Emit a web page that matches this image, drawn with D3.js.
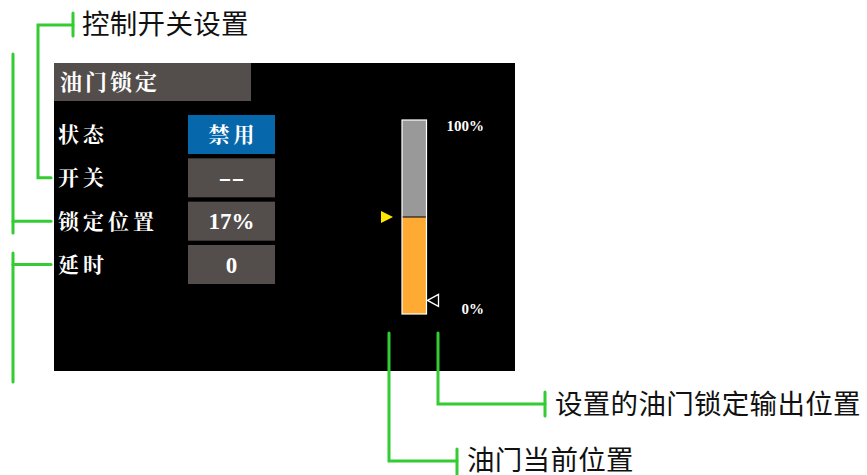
<!DOCTYPE html>
<html><head><meta charset="utf-8">
<script src="https://cdn.jsdelivr.net/npm/d3@7/dist/d3.min.js"></script>
<style>html,body{margin:0;padding:0;background:#fff;}svg{display:block;}</style>
</head><body>
<script>
// ---- data ----
const title = "油门锁定";
const rowLabels = ["状态", "开关", "锁定位置", "延时"];
const rowValues = ["禁用", "--", "17%", "0"];
const rowActive = [true, false, false, false];
const throttleCurrent = 50;      // % (yellow marker / orange fill)
const lockOutput = 7;            // % (hollow marker)
const scaleTicks = [100, 0];
const scaleTickLabels = ["100%", "0%"];
const annotations = ["控制开关设置", "设置的油门锁定输出位置", "油门当前位置"];

const W = 867, H = 475;
const svg = d3.select("body").append("svg").attr("width", W).attr("height", H);

const GREEN = "#3c3", SCREEN = "#000", GREYBOX = "#534e4b", BLUE = "#0668ab";
const cjkSerif = "'Noto Serif CJK SC','Noto Sans CJK SC',serif";
const latinSerif = "'Liberation Serif','DejaVu Serif',serif";

// screen
svg.append("rect").attr("x", 54).attr("y", 63).attr("width", 461).attr("height", 308).attr("fill", SCREEN);
svg.append("rect").attr("x", 54).attr("y", 63).attr("width", 197).attr("height", 38).attr("fill", GREYBOX);
svg.append("text").attr("x", 60).attr("y", 82).attr("dy", "0.36em")
  .attr("fill", "#fff").attr("font-family", cjkSerif).attr("font-weight", 700)
  .attr("font-size", 22).attr("letter-spacing", 3).text(title);

// rows
const rows = d3.scaleBand().domain(rowLabels).range([115, 284]).paddingInner(0.1).paddingOuter(0);
const g = svg.append("g");
rowLabels.forEach((lab, i) => {
  const y = rows(lab), bw = rows.bandwidth(), cy = y + bw / 2;
  g.append("text").attr("x", 58).attr("y", cy).attr("dy", "0.36em")
    .attr("fill", "#fff").attr("font-family", cjkSerif).attr("font-weight", 700)
    .attr("font-size", 21).attr("letter-spacing", 4).text(lab);
  g.append("rect").attr("x", 188).attr("y", y).attr("width", 87).attr("height", bw)
    .attr("fill", rowActive[i] ? BLUE : GREYBOX);
  const v = rowValues[i];
  const isCjk = /[\u4e00-\u9fff]/.test(v);
  const t = g.append("text").attr("x", 231.5 + (isCjk ? 2 : 0)).attr("y", cy).attr("dy", "0.36em")
    .attr("text-anchor", "middle").attr("fill", "#fff")
    .attr("font-family", isCjk ? cjkSerif : latinSerif).attr("font-weight", 700)
    .attr("font-size", isCjk ? 21 : 23).attr("letter-spacing", isCjk ? 4 : 0).text(v);
  if (v === "--") t.attr("textLength", 26).attr("lengthAdjust", "spacingAndGlyphs");
});

// throttle bar
const yb = d3.scaleLinear().domain([0, 100]).range([314, 120]);
const bx = 402, bwid = 24.5;
svg.append("rect").attr("x", bx).attr("y", yb(100)).attr("width", bwid).attr("height", yb(throttleCurrent) - yb(100)).attr("fill", "#999");
svg.append("rect").attr("x", bx).attr("y", yb(throttleCurrent)).attr("width", bwid).attr("height", yb(0) - yb(throttleCurrent)).attr("fill", "#ffab33");
svg.append("line").attr("x1", bx).attr("x2", bx + bwid).attr("y1", yb(throttleCurrent)).attr("y2", yb(throttleCurrent)).attr("stroke", "#000").attr("stroke-width", 1);
svg.append("rect").attr("x", bx).attr("y", yb(100)).attr("width", bwid).attr("height", yb(0) - yb(100))
  .attr("fill", "none").attr("stroke", "#fff").attr("stroke-width", 1.2);
// yellow current marker
const yc = yb(throttleCurrent);
svg.append("path").attr("d", `M381,${yc - 6}L393,${yc}L381,${yc + 6}Z`).attr("fill", "#ffe600");
// hollow lock marker
const yl = yb(lockOutput);
svg.append("path").attr("d", `M427.5,${yl}L438.5,${yl - 6}L438.5,${yl + 6}Z`).attr("fill", "none").attr("stroke", "#fff").attr("stroke-width", 1.3);
// scale labels
scaleTicks.forEach((t, i) => {
  svg.append("text").attr("x", 484).attr("y", yb(t) + (t === 100 ? 6 : -5)).attr("dy", "0.36em")
    .attr("text-anchor", "end").attr("fill", "#fff").attr("font-family", latinSerif)
    .attr("font-weight", 700).attr("font-size", 15).text(scaleTickLabels[i]);
});

// annotations (green leader lines)
const line = d3.line();
const gl = svg.append("g").attr("fill", "none").attr("stroke", GREEN).attr("stroke-width", 3).attr("stroke-linecap", "round").attr("stroke-linejoin", "miter");
const rc = i => rows(rowLabels[i]) + rows.bandwidth() / 2;
gl.append("path").attr("d", line([[73, 25], [38, 25], [38, rc(1)], [51, rc(1)]]));
gl.append("path").attr("d", line([[73, 13], [73, 36]]));
gl.append("path").attr("d", line([[13, 54], [13, 233]]));
gl.append("path").attr("d", line([[13, rc(2)], [51, rc(2)]]));
gl.append("path").attr("d", line([[13, 253], [13, 382]]));
gl.append("path").attr("d", line([[13, rc(3)], [51, rc(3)]]));
gl.append("path").attr("d", line([[438, 333], [438, 404], [545, 404]]));
gl.append("path").attr("d", line([[545, 392], [545, 416]]));
gl.append("path").attr("d", line([[389, 333], [389, 461], [457, 461]]));
gl.append("path").attr("d", line([[457, 449], [457, 476]]));

const annFont = "'Noto Sans CJK SC',sans-serif";
[[annotations[0], 82, 24], [annotations[1], 555, 404], [annotations[2], 467, 460]].forEach(([t, x, y]) => {
  svg.append("text").attr("x", x).attr("y", y).attr("dy", "0.36em").attr("fill", "#111")
    .attr("font-family", annFont).attr("font-size", 27.5).attr("letter-spacing", 0.3).text(t);
});
</script>
</body></html>
